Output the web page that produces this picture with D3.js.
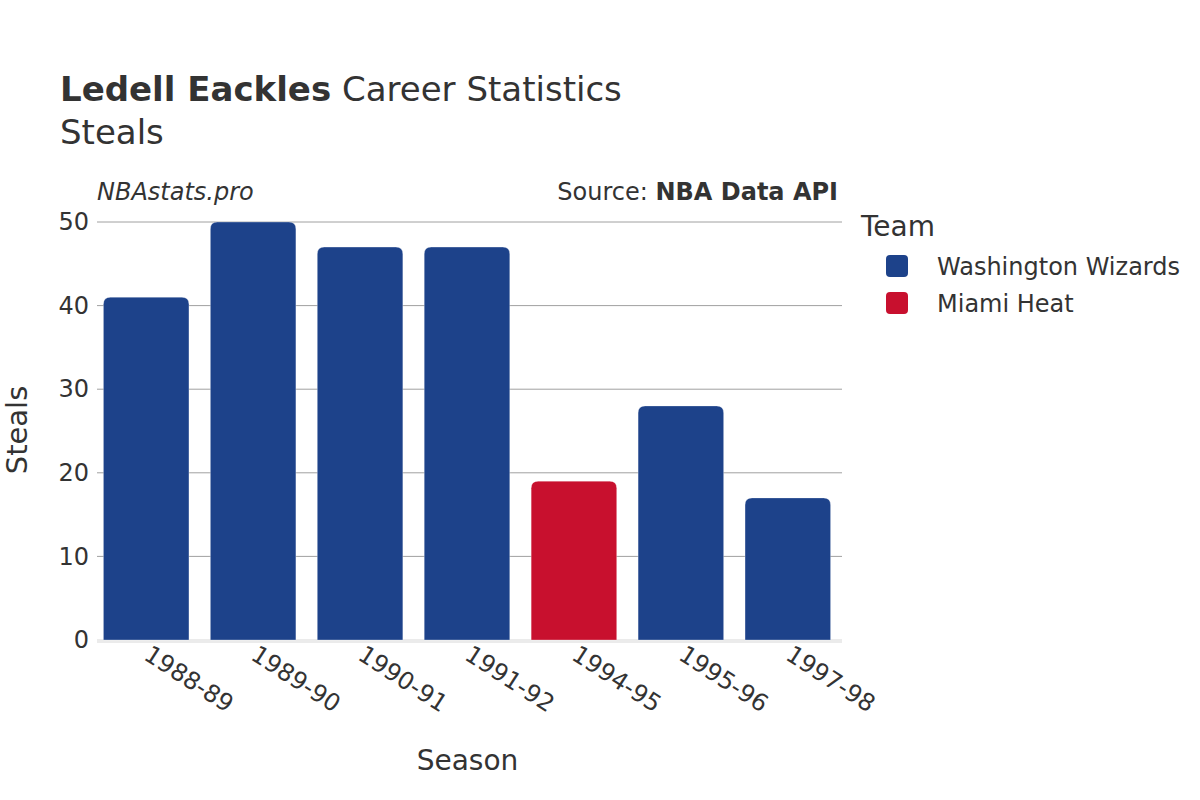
<!DOCTYPE html>
<html>
<head>
<meta charset="utf-8">
<script src="https://cdn.jsdelivr.net/npm/d3@7"></script>
<style>
  body { margin: 0; background: #fff; }
  text { font-family: "DejaVu Sans", sans-serif; fill: #333; }
</style>
</head>
<body>
<script>
var seasons = ["1988-89", "1989-90", "1990-91", "1991-92", "1994-95", "1995-96", "1997-98"];
var steals = [41, 50, 47, 47, 19, 28, 17];
var teams = ["Washington Wizards", "Washington Wizards", "Washington Wizards", "Washington Wizards", "Miami Heat", "Washington Wizards", "Washington Wizards"];
var legendTeams = ["Washington Wizards", "Miami Heat"];
var teamColors = ["#1D428A", "#C8102E"];
var yTicks = [0, 10, 20, 30, 40, 50];

var width = 1200, height = 800;
var margin = {top: 222, right: 358, bottom: 160, left: 97};
var plotW = width - margin.left - margin.right;
var plotH = height - margin.top - margin.bottom;

var svg = d3.select("body").append("svg")
    .attr("width", width)
    .attr("height", height);

var data = seasons.map((s, i) => ({season: s, value: steals[i], team: teams[i]}));

var color = d3.scaleOrdinal().domain(legendTeams).range(teamColors);

var x = d3.scaleBand()
    .domain(seasons)
    .range([0, plotW - 5])
    .paddingInner(0.2)
    .paddingOuter(0.06);

var y = d3.scaleLinear()
    .domain([0, 50])
    .range([plotH, 0]);

var g = svg.append("g")
    .attr("transform", "translate(" + margin.left + "," + margin.top + ")");

// grid lines
g.selectAll(".grid")
    .data(yTicks.filter(d => d > 0))
    .enter().append("line")
    .attr("x1", 0).attr("x2", plotW)
    .attr("y1", d => y(d)).attr("y2", d => y(d))
    .attr("stroke", "#a0a0a0")
    .attr("stroke-width", 1);

// zero line
g.append("line")
    .attr("x1", 0).attr("x2", plotW)
    .attr("y1", y(0) + 1).attr("y2", y(0) + 1)
    .attr("stroke", "#ebebeb")
    .attr("stroke-width", 4);

// bars with rounded top
function barPath(d) {
    var x0 = x(d.season), w = x.bandwidth();
    var y0 = y(d.value), yb = y(0);
    var r = Math.min(7, (yb - y0) / 2);
    return "M" + x0 + "," + yb +
        "V" + (y0 + r) +
        "Q" + x0 + "," + y0 + " " + (x0 + r) + "," + y0 +
        "H" + (x0 + w - r) +
        "Q" + (x0 + w) + "," + y0 + " " + (x0 + w) + "," + (y0 + r) +
        "V" + yb + "Z";
}

g.selectAll(".bar")
    .data(data)
    .enter().append("path")
    .attr("class", "bar")
    .attr("d", barPath)
    .attr("fill", d => color(d.team))
    .attr("stroke", "#ffffff")
    .attr("stroke-opacity", 0.3)
    .attr("stroke-width", 1);

// y axis
var leftAxis = d3.axisLeft(y).tickValues(yTicks).tickSize(0).tickPadding(8);
var ya = g.append("g").call(leftAxis);
ya.select(".domain").remove();
ya.selectAll("text")
    .attr("font-size", "24px")
    .style("font-family", "DejaVu Sans, sans-serif")
    .attr("fill", "#333");

// x axis
var bottomAxis = d3.axisBottom(x).tickSize(0);
var xa = g.append("g")
    .attr("transform", "translate(0," + plotH + ")")
    .call(bottomAxis);
xa.select(".domain").remove();
xa.selectAll("text")
    .attr("font-size", "24px")
    .style("font-family", "DejaVu Sans, sans-serif")
    .attr("fill", "#333")
    .attr("text-anchor", "start")
    .attr("dy", "0")
    .attr("transform", "translate(-2,16) rotate(33)");

// axis titles
svg.append("text")
    .attr("x", margin.left + plotW / 2 - 2)
    .attr("y", 770)
    .attr("text-anchor", "middle")
    .attr("font-size", "28px")
    .text("Season");

svg.append("text")
    .attr("transform", "translate(27," + (margin.top + plotH / 2 - 1) + ") rotate(-90)")
    .attr("text-anchor", "middle")
    .attr("font-size", "29px")
    .text("Steals");

// title
var title = svg.append("text")
    .attr("x", 60)
    .attr("y", 101)
    .attr("font-size", "34px");
title.append("tspan").attr("font-weight", "bold").text("Ledell Eackles");
title.append("tspan").text(" Career Statistics");

svg.append("text")
    .attr("x", 60)
    .attr("y", 144)
    .attr("font-size", "34px")
    .text("Steals");

svg.append("text")
    .attr("x", margin.left)
    .attr("y", 200)
    .attr("font-size", "24px")
    .attr("font-style", "italic")
    .text("NBAstats.pro");

var src = svg.append("text")
    .attr("x", margin.left + plotW - 4)
    .attr("y", 200)
    .attr("text-anchor", "end")
    .attr("font-size", "24px");
src.append("tspan").text("Source: ");
src.append("tspan").attr("font-weight", "bold").text("NBA Data API");

// legend
var legend = svg.append("g").attr("transform", "translate(861,0)");
legend.append("text")
    .attr("x", 0)
    .attr("y", 236)
    .attr("font-size", "28px")
    .text("Team");

var items = legend.selectAll(".item")
    .data(legendTeams)
    .enter().append("g")
    .attr("transform", (d, i) => "translate(0," + (266 + i * 37) + ")");
items.append("rect")
    .attr("x", 25).attr("y", -11)
    .attr("width", 22).attr("height", 22)
    .attr("rx", 4)
    .attr("fill", d => color(d));
items.append("text")
    .attr("x", 76)
    .attr("y", 9)
    .attr("font-size", "24px")
    .text(d => d);
</script>
</body>
</html>
